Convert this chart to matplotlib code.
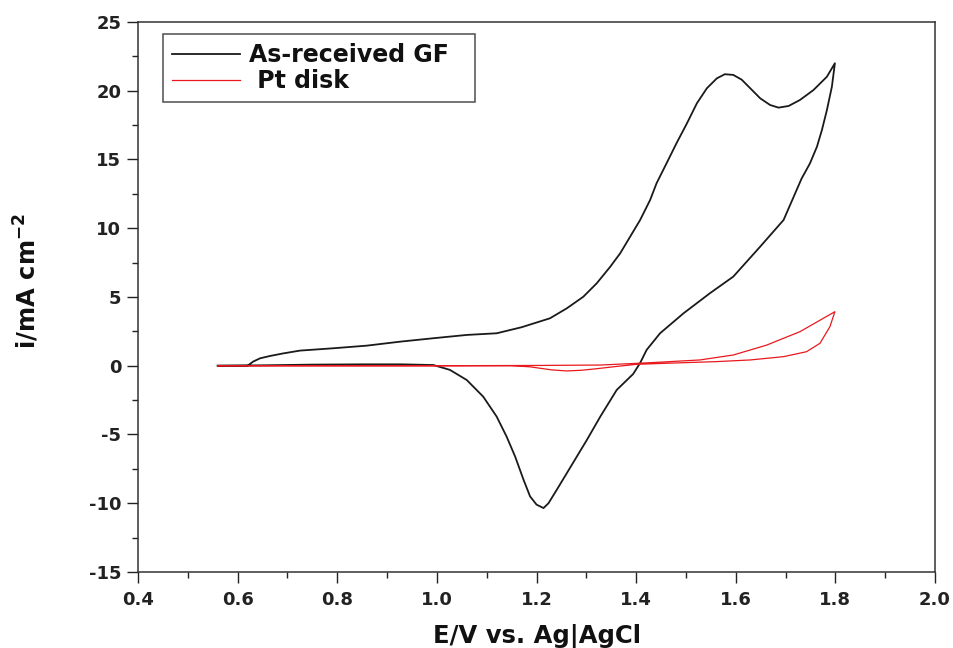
import matplotlib
matplotlib.use("Agg")
import matplotlib.pyplot as plt
from matplotlib.ticker import MultipleLocator, FormatStrFormatter

plt.rcParams['font.family'] = ['DejaVu Sans']
plt.rcParams['font.weight'] = 'bold'
plt.rcParams['axes.unicode_minus'] = False
plt.rcParams['mathtext.fontset'] = 'dejavusans'

# As-received GF: forward sweep then reverse sweep
gf_E = [0.56, 0.62, 0.631, 0.645, 0.665, 0.692, 0.725, 0.792, 0.859, 0.926, 0.993, 1.06,
        1.12, 1.17, 1.227, 1.261, 1.294, 1.321, 1.348, 1.368, 1.388, 1.408, 1.428, 1.441,
        1.461, 1.481, 1.502, 1.522, 1.542, 1.562, 1.578, 1.595, 1.612, 1.629, 1.649, 1.669,
        1.686, 1.706, 1.729, 1.756, 1.783, 1.799,
        1.793, 1.783, 1.773, 1.763, 1.749, 1.732, 1.696, 1.649, 1.595, 1.548, 1.495, 1.448,
        1.421, 1.408, 1.394, 1.361, 1.328, 1.301, 1.281, 1.261, 1.241, 1.224, 1.214, 1.2,
        1.187, 1.174, 1.157, 1.14, 1.12, 1.093, 1.06, 1.026, 0.993, 0.93, 0.85, 0.75, 0.65, 0.56]
gf_i = [0.0, 0.0, 0.3, 0.54, 0.71, 0.9, 1.1, 1.27, 1.46, 1.75, 2.0, 2.24,
        2.36, 2.8, 3.45, 4.18, 5.02, 6.0, 7.2, 8.18, 9.39, 10.6, 12.05, 13.27,
        14.72, 16.18, 17.63, 19.09, 20.18, 20.9, 21.2, 21.15, 20.8, 20.18, 19.45, 18.96,
        18.77, 18.89, 19.33, 20.05, 21.02, 22.0,
        20.3, 18.6, 17.15, 15.93, 14.72, 13.6, 10.6, 8.66, 6.48, 5.27, 3.81, 2.36,
        1.15, 0.2, -0.6, -1.76, -3.7, -5.4, -6.6, -7.8, -9.0, -10.0, -10.35, -10.1,
        -9.5, -8.3, -6.6, -5.16, -3.7, -2.25, -1.04, -0.3, 0.05, 0.1, 0.1, 0.08, 0.03, 0.0]

# Pt disk: forward sweep then reverse sweep
pt_E = [0.56, 0.8, 1.0, 1.2, 1.328, 1.428, 1.528, 1.595, 1.662, 1.729, 1.799,
        1.789, 1.769, 1.742, 1.696, 1.629, 1.562, 1.461, 1.4, 1.361, 1.32, 1.29, 1.261,
        1.23, 1.187, 1.15, 1.0, 0.8, 0.56]
pt_i = [0.0, 0.0, 0.0, 0.02, 0.05, 0.22, 0.42, 0.78, 1.5, 2.48, 3.93,
        2.84, 1.63, 1.02, 0.66, 0.42, 0.3, 0.18, 0.1, -0.05, -0.22, -0.33, -0.38,
        -0.3, -0.08, 0.0, 0.0, 0.0, 0.0]

fig = plt.figure(figsize=(9.54, 6.48), dpi=100)
ax = fig.add_axes([0.1447, 0.1173, 0.8354, 0.8488])

ax.plot(gf_E, gf_i, color='#1a1a1a', lw=1.3, label='As-received GF  ')
ax.plot(pt_E, pt_i, color='#e8191e', lw=0.9, label=' Pt disk')

ax.set_xlim(0.4, 2.0)
ax.set_ylim(-15, 25)
ax.xaxis.set_major_locator(MultipleLocator(0.2))
ax.xaxis.set_minor_locator(MultipleLocator(0.1))
ax.xaxis.set_major_formatter(FormatStrFormatter('%.1f'))
ax.yaxis.set_major_locator(MultipleLocator(5))
ax.yaxis.set_minor_locator(MultipleLocator(2.5))
ax.tick_params(which='major', direction='out', length=8, width=1.0, labelsize=13,
               colors='#222222')
ax.tick_params(axis='y', which='major', pad=4)
ax.tick_params(axis='x', which='major', pad=5.5)
ax.tick_params(which='minor', direction='out', length=4, width=1.0, colors='#222222')
ax.tick_params(top=False, right=False, which='both')
for s in ax.spines.values():
    s.set_linewidth(1.1)
    s.set_color('#333333')

ax.set_xlabel('E/V vs. Ag|AgCl', fontsize=17.5, fontweight='bold', color='#111111')
ax.set_ylabel('i/mA cm$^{\\mathbf{-2}}$', fontsize=17.5, fontweight='bold', color='#111111')
ax.xaxis.set_label_coords(0.5, -0.095)
ax.yaxis.set_label_coords(-0.122, 0.53)

leg = ax.legend(loc='upper left', bbox_to_anchor=(0.031, 0.978), borderaxespad=0,
                fontsize=17, frameon=True, fancybox=False, handlelength=2.9,
                borderpad=0.38, labelspacing=0.1, handletextpad=0.38)
leg.get_frame().set_edgecolor('#222222')
leg.get_frame().set_linewidth(1.1)
for t in leg.get_texts():
    t.set_fontweight('bold')
    t.set_color('#111111')

fig.savefig('out.png', dpi=100)
